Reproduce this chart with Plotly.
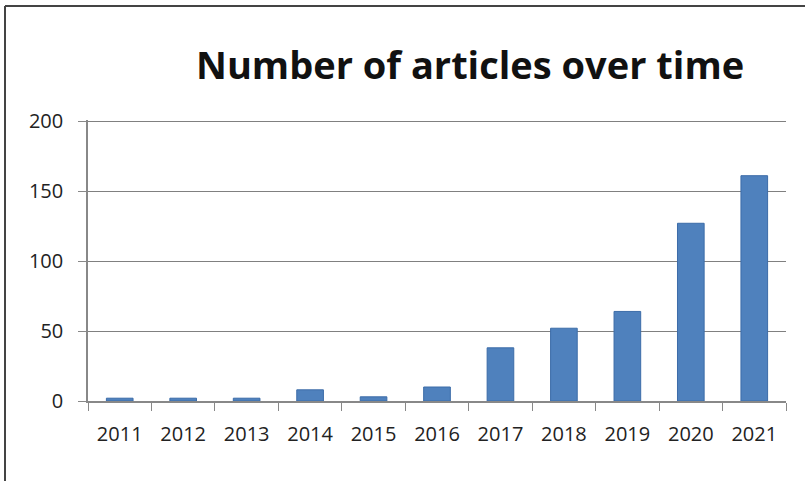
import plotly.graph_objects as go

years = ["2011", "2012", "2013", "2014", "2015", "2016", "2017", "2018", "2019", "2020", "2021"]
articles = [2, 2, 2, 8, 3, 10, 38, 52, 64, 127, 161]
y_ticks = [0, 50, 100, 150, 200]

W, H = 805, 481
L, R, T, B = 88, 19, 120, 80
pw, ph = W - L - R, H - T - B

def px(x):
    return (x - L) / pw

def py(y):
    return (H - B - y) / ph

fig = go.Figure(go.Bar(
    x=years, y=articles,
    marker=dict(color="#4F81BD", line=dict(color="#3C6CA8", width=1)),
))

fig.update_layout(
    width=W, height=H,
    margin=dict(l=L, r=R, t=T, b=B),
    paper_bgcolor="white", plot_bgcolor="white",
    bargap=0.58,
    showlegend=False,
    font=dict(family="Open Sans, Arial, sans-serif", size=20, color="#222"),
    annotations=[dict(
        text="<b>Number of articles over time</b>",
        x=px(470), y=py(64), xref="paper", yref="paper",
        xanchor="center", yanchor="middle", showarrow=False,
        font=dict(family="Open Sans, Arial, sans-serif", size=38, color="#111"),
    )],
    shapes=[
        dict(type="line", xref="paper", yref="paper", x0=px(5), x1=px(805), y0=py(6), y1=py(6),
             line=dict(color="#444", width=2)),
        dict(type="line", xref="paper", yref="paper", x0=px(5), x1=px(5), y0=py(6), y1=py(481),
             line=dict(color="#444", width=2)),
    ],
)

fig.update_xaxes(
    type="category", showline=True, linecolor="#888", linewidth=1.5,
    ticks="outside", tickson="boundaries", ticklen=8, tickcolor="#888",
    showgrid=False, tickfont=dict(size=20, color="#222"), ticklabelstandoff=14,
)
fig.update_yaxes(
    range=[0, 200.8], tickvals=y_ticks, showline=True, linecolor="#888", linewidth=1.5,
    ticks="outside", ticklen=8, tickcolor="#888",
    showgrid=True, gridcolor="#808080", gridwidth=1.2, zeroline=False,
    tickfont=dict(size=20, color="#222"), ticklabelstandoff=11,
)

fig.write_html("out.html", config={"displayModeBar": False},
               post_script="document.body.style.margin='0';")
